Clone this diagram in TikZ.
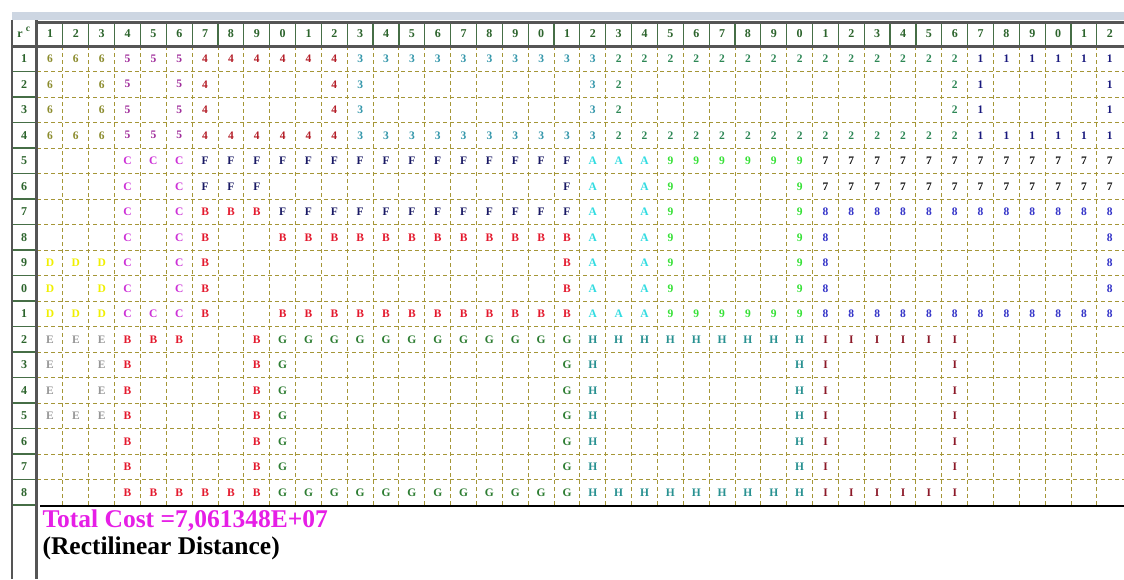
\documentclass[tikz,border=0pt]{standalone}
\usepackage{fontspec}
\setmainfont{Liberation Serif}
\usepackage{xcolor}
\usepackage{tikz}
\definecolor{hdrgreen}{RGB}{44,100,44}
\definecolor{sepgreen}{RGB}{70,110,70}
\definecolor{rulegray}{RGB}{85,85,85}
\definecolor{dashcol}{RGB}{165,150,55}
\definecolor{barblue}{RGB}{205,214,226}
\definecolor{costpink}{RGB}{230,30,230}
\definecolor{col6}{RGB}{140,140,45}
\definecolor{col5}{RGB}{160,45,155}
\definecolor{col4}{RGB}{180,30,40}
\definecolor{col3}{RGB}{50,150,170}
\definecolor{col2}{RGB}{45,135,85}
\definecolor{col1}{RGB}{25,25,125}
\definecolor{colC}{RGB}{205,50,215}
\definecolor{colF}{RGB}{25,25,100}
\definecolor{colA}{RGB}{50,220,225}
\definecolor{col9}{RGB}{55,225,55}
\definecolor{col7}{RGB}{20,20,20}
\definecolor{col8}{RGB}{50,50,200}
\definecolor{colB}{RGB}{228,25,45}
\definecolor{colD}{RGB}{240,240,0}
\definecolor{colE}{RGB}{150,150,150}
\definecolor{colG}{RGB}{45,125,50}
\definecolor{colH}{RGB}{40,145,145}
\definecolor{colI}{RGB}{140,25,40}

\begin{document}
\begin{tikzpicture}[
  x=1pt, y=-1pt,
  cell/.style={font=\bfseries\fontsize{11.5}{12}\selectfont, inner sep=0pt},
  hdr/.style={font=\bfseries\fontsize{12}{12}\selectfont, text=hdrgreen, inner sep=0pt},
  celldash/.style={draw=dashcol, line width=0.9pt, dash pattern=on 4pt off 3pt},
  sepline/.style={draw=sepgreen, line width=1.2pt},
  heavyrule/.style={draw=rulegray, line width=3pt}
]
\useasboundingbox (0,0) rectangle (1124,579);
\fill[white] (0,0) rectangle (1124,579);
\fill[barblue] (12,12) rectangle (1124,20);

\foreach \i in {1,...,17}
  \draw[celldash] (37,{46+\i*25.5}) -- (1124,{46+\i*25.5});
\foreach \j in {1,...,41}
  \draw[celldash] ({37+\j*25.85},46) -- ({37+\j*25.85},505);

\foreach \j in {1,...,41}
  \draw[sepline] ({37+\j*25.85},22) -- ({37+\j*25.85},46);
\foreach \i in {1,...,18}
  \draw[sepline] (12,{46+\i*25.5}) -- (36,{46+\i*25.5});

\draw[draw=rulegray, line width=1.5pt] (12,20) -- (12,579);
\draw[heavyrule] (36,22) -- (1124,22);
\draw[heavyrule] (12,46) -- (1124,46);
\draw[heavyrule] (36,20) -- (36,579);
\draw[line width=2.5pt] (40,506) -- (1124,506);

\node[hdr] (rlab) at (20,35) {r};
\node[hdr, font=\bfseries\fontsize{9.5}{10}\selectfont] (clab) at (28,29) {c};
\foreach \c in {1,...,42} {
  \pgfmathtruncatemacro\lab{mod(\c,10)}
  \node[hdr] (hd-\c) at ({50+(\c-1)*25.85},34) {\lab};
}
\foreach \r in {1,...,18} {
  \pgfmathtruncatemacro\lab{mod(\r,10)}
  \node[hdr] (rl-\r) at (24,{46+(\r-0.5)*25.5}) {\lab};
}

\foreach \r/\cells in {
  1/{6,6,6,5,5,5,4,4,4,4,4,4,3,3,3,3,3,3,3,3,3,3,2,2,2,2,2,2,2,2,2,2,2,2,2,2,1,1,1,1,1,1},
  2/{6,x,6,5,x,5,4,x,x,x,x,4,3,x,x,x,x,x,x,x,x,3,2,x,x,x,x,x,x,x,x,x,x,x,x,2,1,x,x,x,x,1},
  3/{6,x,6,5,x,5,4,x,x,x,x,4,3,x,x,x,x,x,x,x,x,3,2,x,x,x,x,x,x,x,x,x,x,x,x,2,1,x,x,x,x,1},
  4/{6,6,6,5,5,5,4,4,4,4,4,4,3,3,3,3,3,3,3,3,3,3,2,2,2,2,2,2,2,2,2,2,2,2,2,2,1,1,1,1,1,1},
  5/{x,x,x,C,C,C,F,F,F,F,F,F,F,F,F,F,F,F,F,F,F,A,A,A,9,9,9,9,9,9,7,7,7,7,7,7,7,7,7,7,7,7},
  6/{x,x,x,C,x,C,F,F,F,x,x,x,x,x,x,x,x,x,x,x,F,A,x,A,9,x,x,x,x,9,7,7,7,7,7,7,7,7,7,7,7,7},
  7/{x,x,x,C,x,C,B,B,B,F,F,F,F,F,F,F,F,F,F,F,F,A,x,A,9,x,x,x,x,9,8,8,8,8,8,8,8,8,8,8,8,8},
  8/{x,x,x,C,x,C,B,x,x,B,B,B,B,B,B,B,B,B,B,B,B,A,x,A,9,x,x,x,x,9,8,x,x,x,x,x,x,x,x,x,x,8},
  9/{D,D,D,C,x,C,B,x,x,x,x,x,x,x,x,x,x,x,x,x,B,A,x,A,9,x,x,x,x,9,8,x,x,x,x,x,x,x,x,x,x,8},
  10/{D,x,D,C,x,C,B,x,x,x,x,x,x,x,x,x,x,x,x,x,B,A,x,A,9,x,x,x,x,9,8,x,x,x,x,x,x,x,x,x,x,8},
  11/{D,D,D,C,C,C,B,x,x,B,B,B,B,B,B,B,B,B,B,B,B,A,A,A,9,9,9,9,9,9,8,8,8,8,8,8,8,8,8,8,8,8},
  12/{E,E,E,B,B,B,x,x,B,G,G,G,G,G,G,G,G,G,G,G,G,H,H,H,H,H,H,H,H,H,I,I,I,I,I,I,x,x,x,x,x,x},
  13/{E,x,E,B,x,x,x,x,B,G,x,x,x,x,x,x,x,x,x,x,G,H,x,x,x,x,x,x,x,H,I,x,x,x,x,I,x,x,x,x,x,x},
  14/{E,x,E,B,x,x,x,x,B,G,x,x,x,x,x,x,x,x,x,x,G,H,x,x,x,x,x,x,x,H,I,x,x,x,x,I,x,x,x,x,x,x},
  15/{E,E,E,B,x,x,x,x,B,G,x,x,x,x,x,x,x,x,x,x,G,H,x,x,x,x,x,x,x,H,I,x,x,x,x,I,x,x,x,x,x,x},
  16/{x,x,x,B,x,x,x,x,B,G,x,x,x,x,x,x,x,x,x,x,G,H,x,x,x,x,x,x,x,H,I,x,x,x,x,I,x,x,x,x,x,x},
  17/{x,x,x,B,x,x,x,x,B,G,x,x,x,x,x,x,x,x,x,x,G,H,x,x,x,x,x,x,x,H,I,x,x,x,x,I,x,x,x,x,x,x},
  18/{x,x,x,B,B,B,B,B,B,G,G,G,G,G,G,G,G,G,G,G,G,H,H,H,H,H,H,H,H,H,I,I,I,I,I,I,x,x,x,x,x,x}} {
  \foreach \ch [count=\c] in \cells {
    \if x\ch\else
      \node[cell, text=col\ch] (cell-\r-\c) at ({50+(\c-1)*25.85},{46+(\r-0.5)*25.5}) {\ch};
    \fi
  }
}

\node[anchor=west, font=\bfseries\fontsize{25.5}{28}\selectfont, text=costpink] (total) at (39,521) {Total Cost =7,061348E+07};
\node[anchor=west, font=\bfseries\fontsize{25.5}{28}\selectfont] (metric) at (39,548) {(Rectilinear Distance)};
\end{tikzpicture}
\end{document}
